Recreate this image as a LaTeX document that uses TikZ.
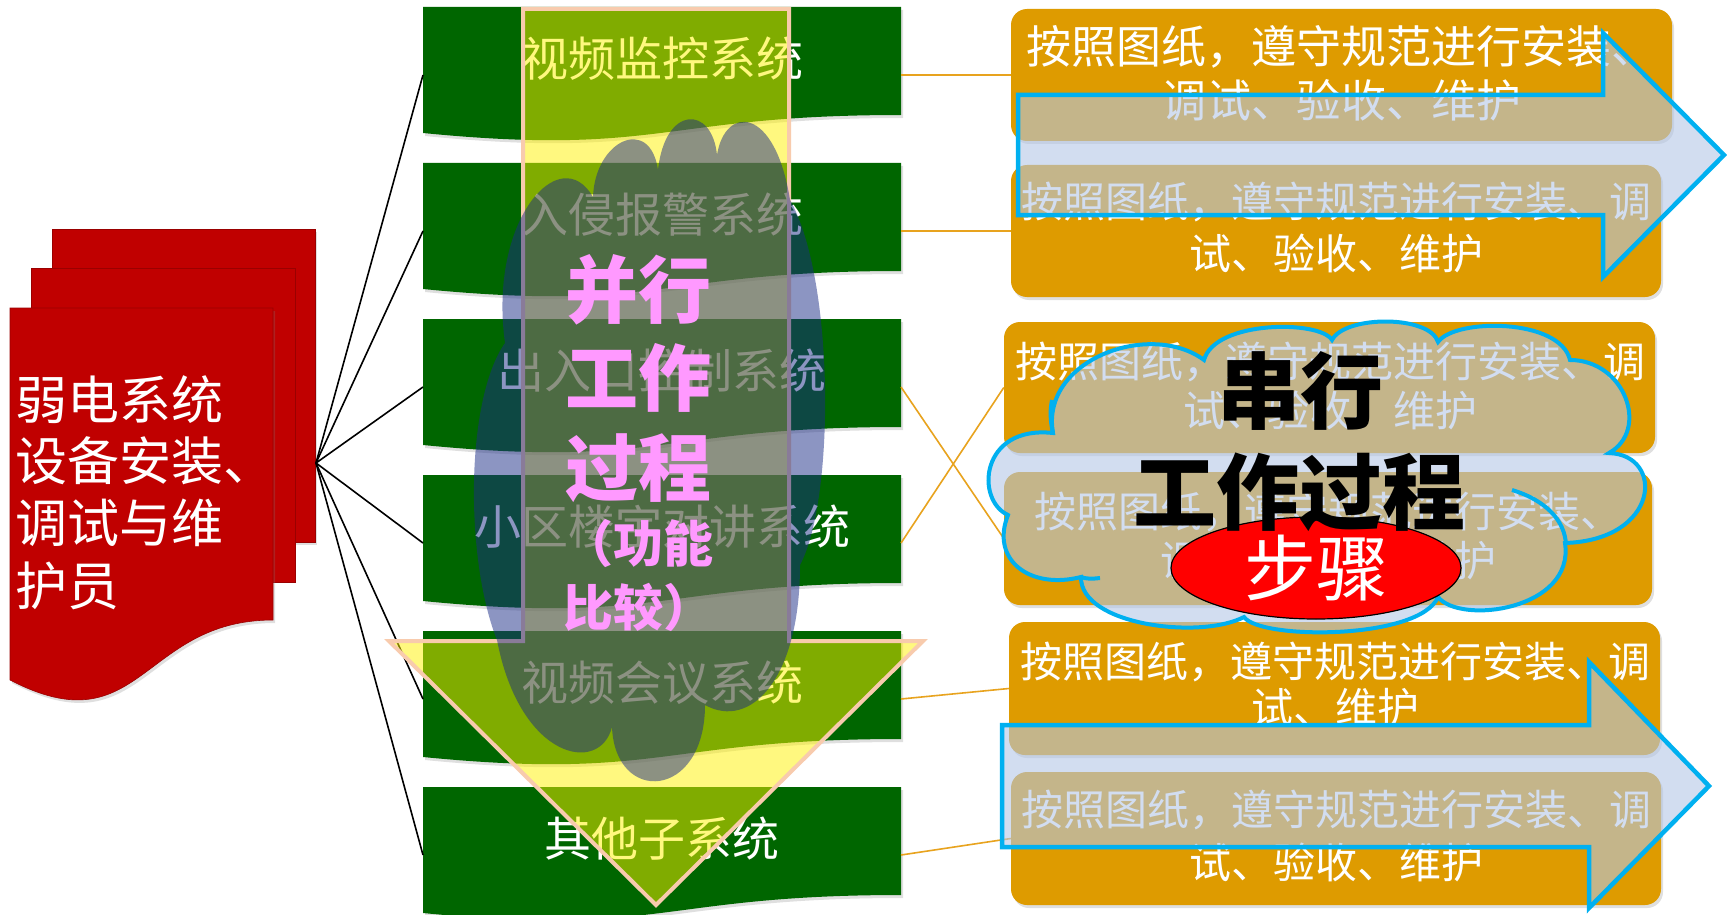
\documentclass[tikz,border=0pt]{standalone}
\usepackage{fontspec}
\setmainfont{Noto Sans CJK SC}
\usetikzlibrary{shapes.geometric,shadows}
\definecolor{redc}{RGB}{192,0,0}
\definecolor{greenc}{RGB}{0,102,0}
\definecolor{orangec}{RGB}{222,155,0}
\definecolor{linec}{RGB}{232,163,30}
\definecolor{peach}{RGB}{248,203,173}
\definecolor{cloudA}{RGB}{27,44,134}
\definecolor{lblue}{RGB}{180,199,231}
\definecolor{cyanb}{RGB}{0,176,240}
\definecolor{pinkt}{RGB}{255,153,255}
\tikzset{
  gshadow/.style={drop shadow={opacity=0.25, shadow xshift=2pt, shadow yshift=-3pt}},
  gtext/.style={text=white, font=\fontsize{47}{56}\selectfont, inner sep=0pt},
  rtext/.style={text=white, font=\fontsize{52}{62}\selectfont, inner sep=0pt, anchor=west},
  obox/.style={fill=orangec, rounded corners=16pt, inner sep=0pt, gshadow},
  otext/.style={text=white, inner sep=0pt},
  fanline/.style={black, line width=1.6pt},
  oline/.style={linec, line width=1.6pt},
  ptext/.style={text=pinkt, inner sep=0pt, font=\bfseries\fontsize{73}{80}\selectfont},
  ptsmall/.style={text=pinkt, inner sep=0pt, font=\bfseries\fontsize{50}{56}\selectfont},
  stext/.style={text=black, inner sep=0pt, font=\bfseries\fontsize{83}{90}\selectfont},
  barrow/.style={fill=lblue, fill opacity=0.6, draw=cyanb, line width=4.5pt, line join=miter},
}
\newcommand\GreenBox[3]{%
  \fill[greenc, gshadow] (423,#2) -- (901,#2) -- (901,#2+108) .. controls (662,#2+108) and (662,#2+149.5) .. (423,#2+126) -- cycle;
  \coordinate (gw#1) at (423,#2+68);
  \coordinate (ge#1) at (901,#2+68);
  \node[gtext] (g#1) at (662,#2+52) {#3};
}
\begin{document}
\begin{tikzpicture}[x=1pt,y=-1pt]
\useasboundingbox (0,0) rectangle (1727,915);
\fill[white] (0,0) rectangle (1727,915);

% red multi-document
\fill[redc, draw=redc!80!black, line width=0.6pt, gshadow] (52,229) rectangle (315,542);
\fill[redc, draw=redc!80!black, line width=0.6pt] (31,268) rectangle (295,582);
\fill[redc, draw=redc!80!black, line width=0.6pt, gshadow] (10,308) -- (273,308) -- (273,620) .. controls (141,620) and (141,748) .. (10,680) -- cycle;
\node[rtext] (r1) at (15,400) {弱电系统};
\node[rtext] (r2) at (15,461) {设备安装、};
\node[rtext] (r3) at (15,523) {调试与维};
\node[rtext] (r4) at (15,586) {护员};
\coordinate (fan) at (316,463);

% green subsystem boxes
\GreenBox{1}{7}{视频监控系统}
\GreenBox{2}{163}{入侵报警系统}
\GreenBox{3}{319}{出入口控制系统}
\GreenBox{4}{475}{小区楼宇对讲系统}
\GreenBox{5}{631}{视频会议系统}
\GreenBox{6}{787}{其他子系统}

\foreach \i in {1,...,6} \draw[fanline] (fan) -- (gw\i);

% orange boxes
\node[obox, minimum width=661pt, minimum height=132pt] (o1) at (1341.5,75) {};
\node[obox, minimum width=650pt, minimum height=132pt] (o2) at (1336,231) {};
\node[obox, minimum width=651pt, minimum height=131pt] (o3) at (1329.5,387.5) {};
\node[obox, minimum width=648pt, minimum height=133pt] (o4) at (1328,538.5) {};
\node[obox, minimum width=651pt, minimum height=133pt] (o5) at (1334.5,688.5) {};
\node[obox, minimum width=650pt, minimum height=133pt] (o6) at (1336,838.5) {};

\draw[oline] (ge1) -- (o1.west);
\draw[oline] (ge2) -- (o2.west);
\draw[oline] (ge3) -- (o4.west);
\draw[oline] (ge4) -- (o3.west);
\draw[oline] (ge5) -- (o5.west);
\draw[oline] (ge6) -- (o6.west);

\node[otext, font=\fontsize{45}{50}\selectfont] (o1a) at (1341,47) {按照图纸，遵守规范进行安装、};
\node[otext, font=\fontsize{45}{50}\selectfont] (o1b) at (1341,100) {调试、验收、维护};
\node[otext, font=\fontsize{42}{50}\selectfont] (o2a) at (1336,202) {按照图纸，遵守规范进行安装、调};
\node[otext, font=\fontsize{42}{50}\selectfont] (o2b) at (1336,253) {试、验收、维护};
\node[otext, font=\fontsize{42}{50}\selectfont] (o3a) at (1330,362) {按照图纸，遵守规范进行安装、调};
\node[otext, font=\fontsize{42}{50}\selectfont] (o3b) at (1330,410) {试、验收、维护};
\node[otext, font=\fontsize{42}{50}\selectfont] (o4a) at (1328,512) {按照图纸，遵守规范进行安装、};
\node[otext, font=\fontsize{42}{50}\selectfont] (o4b) at (1328,560) {调试、验收、维护};
\node[otext, font=\fontsize{42}{50}\selectfont] (o5a) at (1335,662) {按照图纸，遵守规范进行安装、调};
\node[otext, font=\fontsize{42}{50}\selectfont] (o5b) at (1335,708) {试、维护};
\node[otext, font=\fontsize{42}{50}\selectfont] (o6a) at (1336,810) {按照图纸，遵守规范进行安装、调};
\node[otext, font=\fontsize{42}{50}\selectfont] (o6b) at (1336,862) {试、验收、维护};

% down arrow (parallel)
\filldraw[fill=yellow, fill opacity=0.5, draw=peach, line width=4pt, line join=miter]
  (523,9) -- (789,9) -- (789,641) -- (923,641) -- (656,905) -- (389,641) -- (523,641) -- cycle;

% parallel cloud
\fill[cloudA, fill opacity=0.5]
  (593,197) .. controls (595,140) and (650,115) .. (658,170)
  .. controls (665,105) and (712,105) .. (717,155)
  .. controls (725,105) and (775,105) .. (790,200)
  .. controls (835,280) and (835,500) .. (800,565)
  .. controls (800,680) and (750,730) .. (705,705)
  .. controls (705,800) and (615,805) .. (612,727)
  .. controls (600,775) and (520,760) .. (497,640)
  .. controls (465,560) and (465,400) .. (505,343)
  .. controls (488,220) and (560,140) .. (593,197) -- cycle;
\node[ptext] (p1) at (638,290) {并行};
\node[ptext] (p2) at (638,378) {工作};
\node[ptext] (p3) at (638,468) {过程};
\node[ptsmall] (p4) at (638,543) {（功能};
\node[ptsmall] (p5) at (638,607) {比较）};

% blue arrows
\path[barrow] (1018,95) -- (1603,95) -- (1603,33) -- (1724,155) -- (1603,277) -- (1603,215) -- (1018,215) -- cycle;
\path[barrow] (1002,725) -- (1589,725) -- (1589,662) -- (1709,786) -- (1589,908) -- (1589,847) -- (1002,847) -- cycle;

% serial cloud
\filldraw[fill=lblue, fill opacity=0.6, draw=cyanb, line width=4pt]
  (1008,515) .. controls (975,500) and (980,425) .. (1053,433)
  .. controls (1040,360) and (1150,320) .. (1204,360)
  .. controls (1215,320) and (1320,320) .. (1332,340)
  .. controls (1345,315) and (1430,315) .. (1438,342)
  .. controls (1455,318) and (1560,318) .. (1570,360)
  .. controls (1625,360) and (1650,430) .. (1609,453)
  .. controls (1665,455) and (1660,540) .. (1565,543)
  .. controls (1575,610) and (1460,625) .. (1438,597)
  .. controls (1420,640) and (1260,640) .. (1244,617)
  .. controls (1200,640) and (1080,625) .. (1081,577)
  .. controls (1030,590) and (990,560) .. (1008,515) -- cycle;
\draw[cyanb, line width=4pt] (1512,490) .. controls (1545,500) and (1565,520) .. (1566,545);
\draw[cyanb, line width=4pt] (1053,433) .. controls (1050,420) and (1050,410) .. (1052,400);
\draw[cyanb, line width=4pt] (1081,577) .. controls (1086,579) and (1092,579) .. (1100,578);
\node[ellipse, fill=red, draw=black, line width=1.2pt, minimum width=290pt, minimum height=102pt,
      inner sep=0pt, text=white, font=\fontsize{72}{80}\selectfont] (bz) at (1316,568) {步骤};
\node[stext] (s1) at (1300,391) {串行};
\node[stext] (s2) at (1299,492) {工作过程};
\end{tikzpicture}
\end{document}
